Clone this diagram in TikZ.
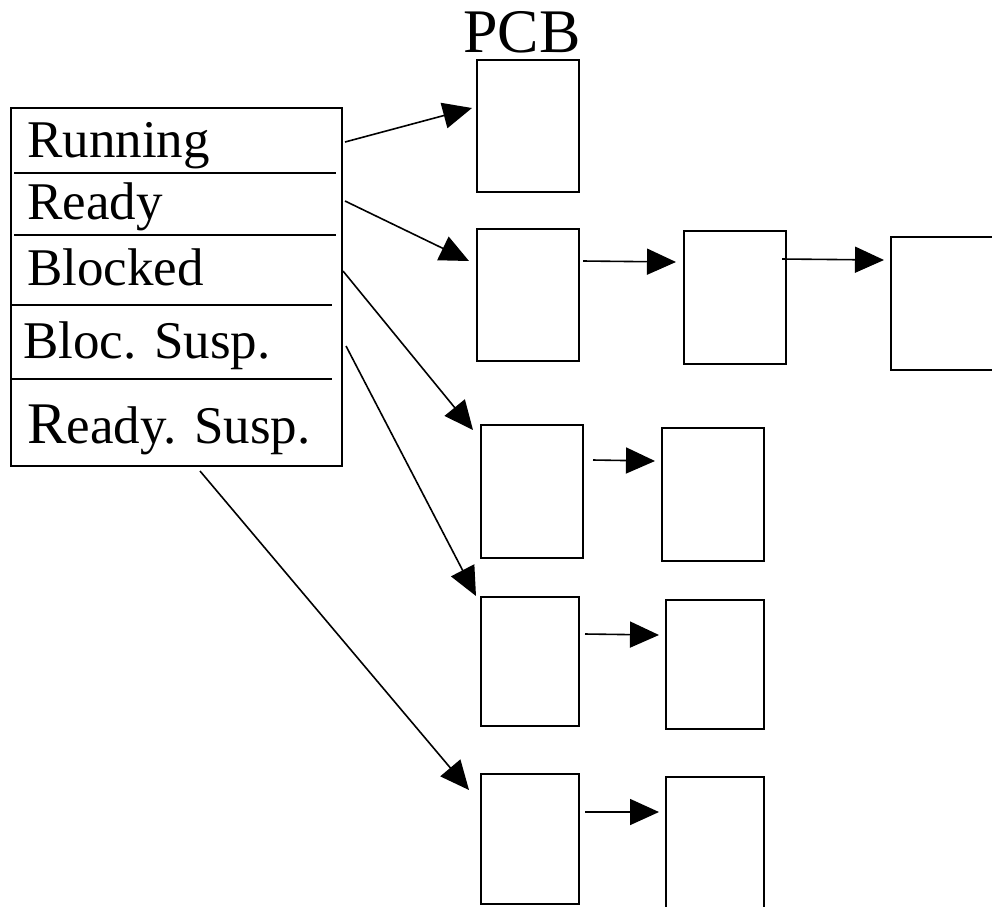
\documentclass[tikz,border=0pt]{standalone}
\usepackage{fontspec}
\setmainfont{Liberation Serif}
\usetikzlibrary{arrows.meta}
\begin{document}
\begin{tikzpicture}[x=1pt,y=-1pt,
 pcb/.style={draw, line width=2pt, minimum width=102pt, minimum height=132pt, inner sep=0pt, outer sep=0pt},
 narrow/.style={minimum width=98pt, minimum height=130pt},
 arr/.style={line width=1.6pt, -{Triangle[length=29pt,width=26pt]}},
 lbl/.style={anchor=base west, inner sep=0pt, font=\fontsize{53}{60}\selectfont},
 sep/.style={line width=2pt},
]
\useasboundingbox (0,0) rectangle (992,906);
\clip (0,0) rectangle (992,906);

% state table
\node[draw, line width=2pt, minimum width=331pt, minimum height=358pt, inner sep=0pt] (tbl) at (176.5,287) {};
\draw[sep] (14,173) -- (336,173);
\draw[sep] (14,235) -- (336,235);
\draw[sep] (11,305) -- (332,305);
\draw[sep] (11,379) -- (332,379);
\node[lbl] (running) at (27,157) {Running};
\node[lbl] (ready) at (27,219) {Ready};
\node[lbl] (blocked) at (27,285) {Blocked};
\node[lbl] (blocsusp) at (23,358) {Bloc. Susp.};
\node[lbl] (readysusp) at (27,443) {{\fontsize{59}{60}\selectfont R}eady. Susp.};

% title
\node[anchor=base, inner sep=0pt, font=\fontsize{62}{70}\selectfont] (title) at (522,52) {PCB};

% PCB boxes
\node[pcb] (a1) at (528,126) {};
\node[pcb] (a2) at (528,295) {};
\node[pcb, minimum height=133pt] (b2) at (735,297.5) {};
\node[pcb, minimum height=133pt] (c2) at (942,303.5) {};
\node[pcb, minimum height=133pt] (a3) at (532,491.5) {};
\node[pcb, minimum height=133pt] (b3) at (713,494.5) {};
\node[pcb, narrow, minimum height=129pt] (a4) at (530,661.5) {};
\node[pcb, narrow, minimum height=129pt] (b4) at (715,664.5) {};
\node[pcb, narrow] (a5) at (530,839) {};
\node[pcb, narrow, minimum height=136pt] (b5) at (715,845) {};

% connector end points
\coordinate (s1) at (345,142); \coordinate (t1) at (472,108);
\coordinate (s2) at (345,201); \coordinate (t2) at (469,261);
\coordinate (s3) at (343,271); \coordinate (t3) at (473,430);
\coordinate (s4) at (346,346); \coordinate (t4) at (476,596);
\coordinate (s5) at (200,471); \coordinate (t5) at (469,790);
\coordinate (h1s) at (583,261); \coordinate (h1t) at (676,262);
\coordinate (h2s) at (782,259); \coordinate (h2t) at (884,260);
\coordinate (h3s) at (593,460); \coordinate (h3t) at (655,461);
\coordinate (h4s) at (585,634); \coordinate (h4t) at (659,635);
\coordinate (h5s) at (585,812); \coordinate (h5t) at (659,812);

\draw[arr] (s1) -- (t1);
\draw[arr] (s2) -- (t2);
\draw[arr] (s3) -- (t3);
\draw[arr] (s4) -- (t4);
\draw[arr] (s5) -- (t5);
\draw[arr] (h1s) -- (h1t);
\draw[arr] (h2s) -- (h2t);
\draw[arr] (h3s) -- (h3t);
\draw[arr] (h4s) -- (h4t);
\draw[arr] (h5s) -- (h5t);
\end{tikzpicture}
\end{document}
